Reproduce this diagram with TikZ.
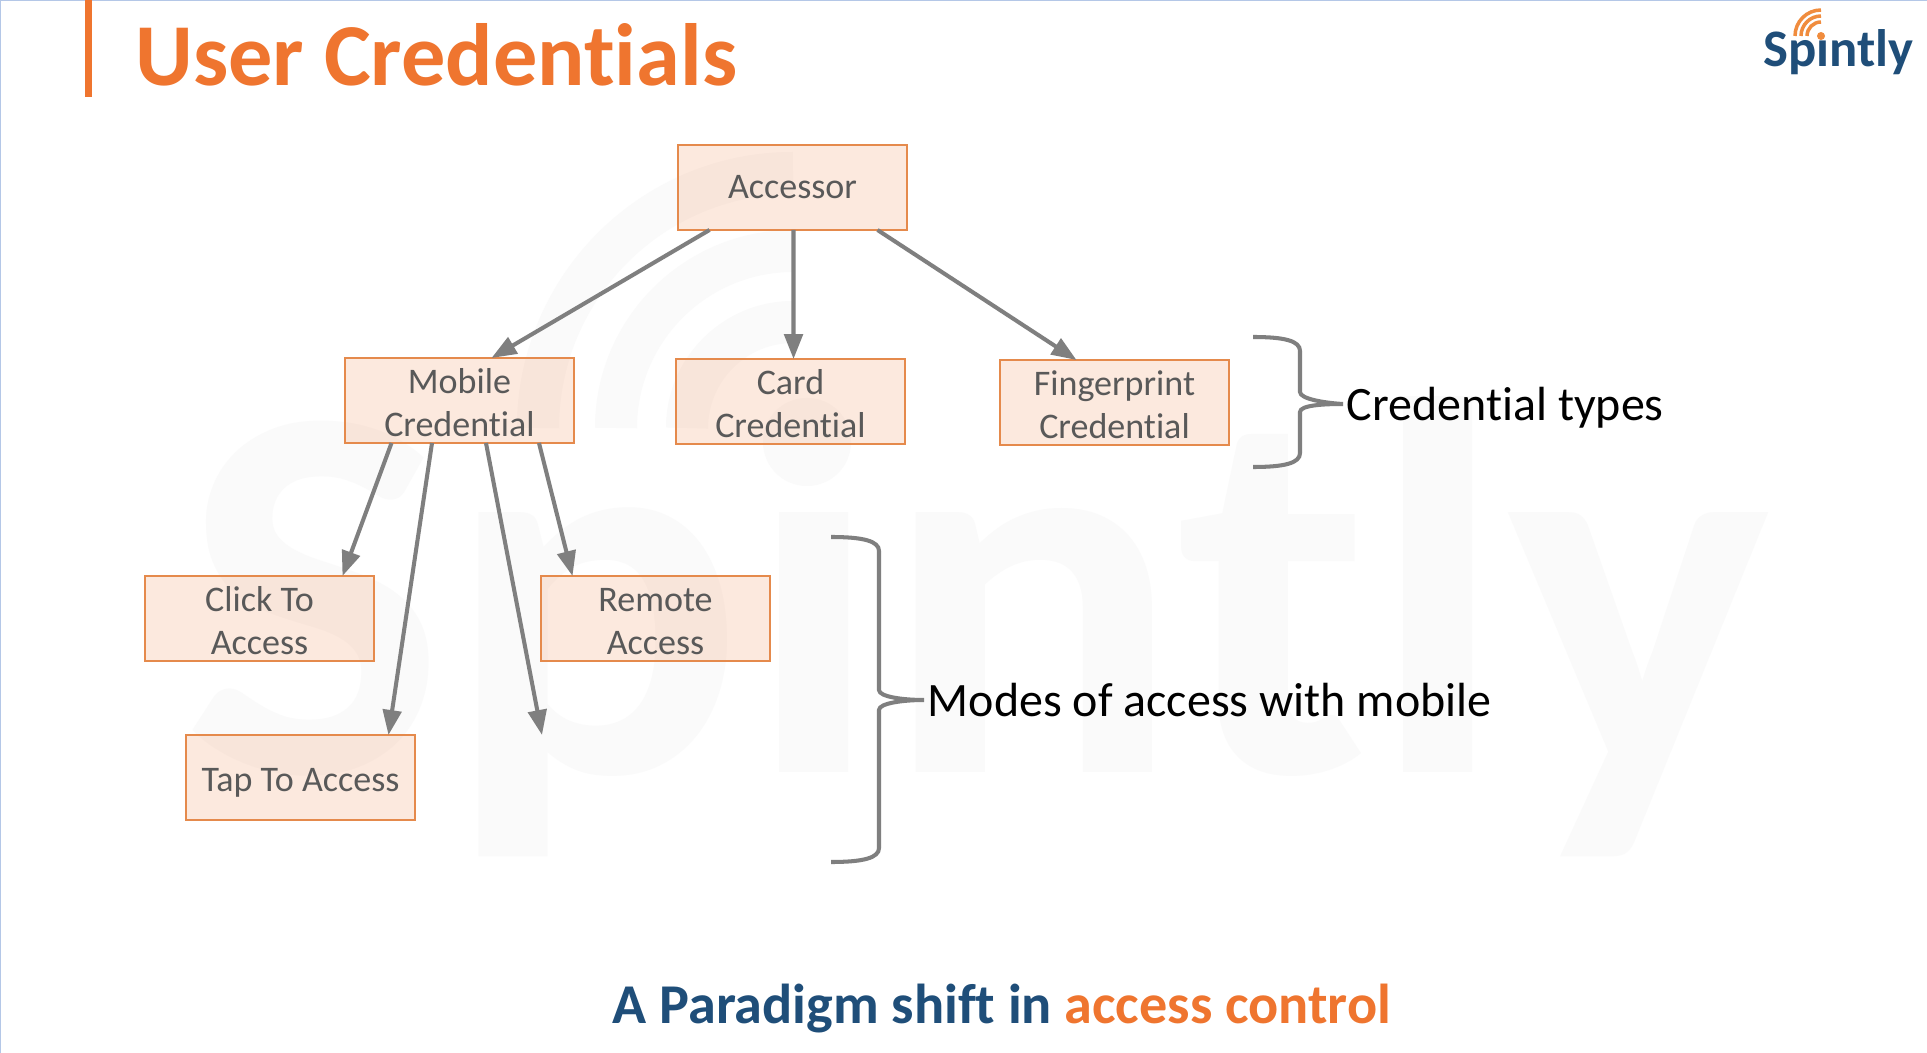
\documentclass[tikz,border=0pt]{standalone}
\usepackage{fontspec}
\setmainfont[Ligatures=NoCommon]{Carlito}
\usetikzlibrary{arrows.meta}
\definecolor{brandOrange}{HTML}{EF752F}
\definecolor{brandBlue}{HTML}{1F4E79}
\definecolor{logoOrange}{HTML}{F08C3E}
\definecolor{boxEdge}{HTML}{E58A4C}
\definecolor{boxText}{HTML}{595959}
\definecolor{linkGrey}{HTML}{7F7F7F}
\definecolor{markGrey}{HTML}{FAFAFA}
\definecolor{pageEdge}{HTML}{B4C7E7}
\newcommand{\boxWidth}{4.58cm}
\newcommand{\boxHeight}{1.7cm}
\newcommand{\lineLift}{\rule{0pt}{.6cm}}
\tikzset{
  credbox/.style={draw=boxEdge, line width=1.5pt, fill=brandOrange, fill opacity=.155, text opacity=1,
    minimum width=\boxWidth, minimum height=\boxHeight, inner sep=0pt, outer sep=0pt, align=center,
    text=boxText, font=\fontsize{20.5}{24.4}\selectfont},
  link/.style={draw=linkGrey, line width=2.3pt, -{Triangle[length=.5cm,width=.37cm]}},
  bracket/.style={draw=linkGrey, line width=2.3pt},
  sidenote/.style={inner sep=2pt, anchor=west, text depth=0pt, font=\fontsize{27.3}{30}\selectfont},
  markarc/.style={draw=markGrey, line width=.84cm},
  logoarc/.style={draw=logoOrange, line width=.07cm}
}

\begin{document}
\begin{tikzpicture}[x=0.02cm, y=-0.02cm]
\useasboundingbox (0,0) rectangle (1927,1053);
\fill[white] (0,0) rectangle (1927,1053);
\draw[pageEdge, line width=.04cm] (0,1053) -- (0,0) -- (1927,0);

% watermark behind the tree
\node (mark) [anchor=base west, inner sep=0pt, text=markGrey, font=\fontsize{305}{305}\selectfont\bfseries] at (182,772) {\scalebox{1.04}[1]{Sp\i ntly}};
\fill[markGrey] (807,442) circle (44);
\draw[markarc] (687,428) arc[start angle=180, end angle=270, radius=106];
\draw[markarc] (616,428) arc[start angle=180, end angle=270, radius=177];
\draw[markarc] (538,428) arc[start angle=180, end angle=270, radius=255];

% heading
\fill[brandOrange] (85,0) rectangle (92,97);
\node (heading) [anchor=base west, inner sep=0pt, text=brandOrange, font=\fontsize{50.3}{52}\selectfont\bfseries] at (135,86) {User Credentials};

% logo
\node (logo) [anchor=base west, inner sep=0pt, text=brandBlue, font=\fontsize{30}{31}\selectfont\bfseries] at (1763,67) {Sp\i ntly};
\fill[logoOrange] (1821,36) circle (4);
\draw[logoarc] (1807,36) arc[start angle=180, end angle=270, radius=14];
\draw[logoarc] (1801,36) arc[start angle=180, end angle=270, radius=20];
\draw[logoarc] (1795,36) arc[start angle=180, end angle=270, radius=26];

% credential tree
\node (accessor) [credbox] at (792.5,187.5) {Accessor};
\node (mobileCred) [credbox] at (459.5,400.5) {\lineLift Mobile\\Credential};
\node (cardCred) [credbox] at (790.5,401.5) {\lineLift Card\\Credential};
\node (fingerCred) [credbox] at (1114.5,402.5) {\lineLift Fingerprint\\Credential};
\node (clickAccess) [credbox] at (259.5,618.5) {\lineLift Click To\\Access};
\node (remoteAccess) [credbox] at (655.5,618.5) {\lineLift Remote\\Access};
\node (tapAccess) [credbox] at (300.5,777.5) {\rule{0pt}{.66cm}Tap To Access};
\coordinate (openEnd) at (542,735);

\draw[link] ([xshift=-1.66cm]accessor.south) -- ([xshift=.64cm]mobileCred.north);
\draw[link] ([xshift=.02cm]accessor.south) -- ([xshift=.06cm]cardCred.north);
\draw[link] ([xshift=1.7cm]accessor.south) -- ([xshift=-.76cm]fingerCred.north);
\draw[link] ([xshift=-1.36cm]mobileCred.south) -- ([xshift=1.66cm]clickAccess.north);
\draw[link] ([xshift=-.55cm]mobileCred.south) -- ([xshift=1.76cm]tapAccess.north);
\draw[link] ([xshift=.53cm]mobileCred.south) -- (openEnd);
\draw[link] ([xshift=1.59cm]mobileCred.south) -- ([xshift=-1.66cm]remoteAccess.north);

% side notes with their braces
\node (typesNote) [sidenote] at (1343,404) {Credential types};
\node (modesNote) [sidenote] at (924,700) {Modes of access with mobile};
\coordinate (typesTop) at (1253,337);
\coordinate (typesEnd) at (1253,467);
\coordinate (modesTop) at (831,537);
\coordinate (modesEnd) at (831,862);

\draw[bracket] (typesTop) .. controls (1285,337) and (1300,341) .. (1300,351) -- (1300,392)
  .. controls (1300,399) and (1325,403) .. (typesNote.west)
  .. controls (1325,404) and (1300,405) .. (1300,412) -- (1300,453)
  .. controls (1300,463) and (1285,467) .. (typesEnd);
\draw[bracket] (modesTop) .. controls (863,537) and (879,541) .. (879,551) -- (879,690)
  .. controls (879,697) and (904,700) .. (modesNote.west)
  .. controls (904,700) and (879,703) .. (879,710) -- (879,848)
  .. controls (879,858) and (863,862) .. (modesEnd);

% closing line
\node (closing) [inner sep=0pt, font=\fontsize{32}{36}\selectfont\bfseries, text=brandBlue] at (1002,1009) {A Paradigm shift in \textcolor{brandOrange}{access control}};
\end{tikzpicture}
\end{document}
